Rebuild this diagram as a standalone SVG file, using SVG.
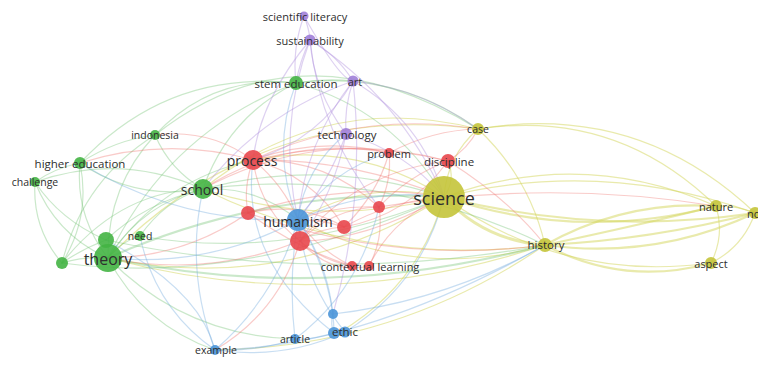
<svg xmlns="http://www.w3.org/2000/svg" width="758" height="365" viewBox="0 0 758 365">
<style>
.e{fill:none;stroke-width:1.2;stroke-linecap:round}
.y{stroke:#d3d65a;stroke-opacity:.5}
.g{stroke:#6cc06c;stroke-opacity:.36}
.r{stroke:#ef7068;stroke-opacity:.36}
.b{stroke:#75acdf;stroke-opacity:.4}
.p{stroke:#b092de;stroke-opacity:.42}
.t2{stroke-width:2.2}
.t3{stroke-width:3}
text{font-family:"Open Sans","Noto Sans","DejaVu Sans",sans-serif;fill:#2e2e2e;text-anchor:middle;dominant-baseline:central;font-size:11px}
.cr{fill:#e8474c;fill-opacity:.9}
.cg{fill:#44b444;fill-opacity:.9}
.cb{fill:#4a95d8;fill-opacity:.9}
.cy{fill:#c4c43a;fill-opacity:.9}
.cp{fill:#a07ed8;fill-opacity:.9}
</style>
<rect width="758" height="365" fill="#ffffff"/>
<g id="edges">
<path class="e y" d="M444,197 Q582,147 716,206"/>
<path class="e y" d="M444,197 Q602,158 755,213"/>
<path class="e y" d="M444,197 Q564,283 711,263"/>
<path class="e y t3" d="M444,197 Q485,241 545,245"/>
<path class="e y t2" d="M545,245 Q625,200 716,206"/>
<path class="e y t2" d="M545,245 Q655,260 755,213"/>
<path class="e y t2" d="M545,245 Q624,287 711,263"/>
<path class="e y" d="M716,206 Q725,235 711,263"/>
<path class="e y" d="M716,206 Q735,205 755,213"/>
<path class="e y" d="M711,263 Q743,247 755,213"/>
<path class="e y" d="M444,197 Q447,156 478,129"/>
<path class="e y" d="M478,129 Q616,108 716,206"/>
<path class="e y" d="M478,129 Q638,102 755,213"/>
<path class="e y" d="M478,129 Q529,177 545,245"/>
<path class="e y" d="M444,197 Q288,295 108,258"/>
<path class="e y" d="M444,197 Q322,229 203,189"/>
<path class="e y" d="M545,245 Q328,317 108,258"/>
<path class="e y" d="M545,245 Q396,347 215,350"/>
<path class="e y" d="M444,197 Q366,179 298,220"/>
<path class="e y" d="M444,197 Q356,140 253,160"/>
<path class="e y t2" d="M444,197 Q579,242 716,206"/>
<path class="e y t2" d="M444,197 Q598,236 755,213"/>
<path class="e y" d="M478,129 Q326,90 203,189"/>
<path class="e y" d="M478,129 Q261,101 108,258"/>
<path class="e y" d="M545,245 Q366,268 203,189"/>
<path class="e y" d="M545,245 Q416,282 298,220"/>
<path class="e y" d="M444,197 Q456,180 448,161"/>
<path class="e y" d="M444,197 Q419,285 340,332"/>
<path class="e y t2" d="M545,245 Q640,225 716,206"/>
<path class="e y t2" d="M545,245 Q650,240 755,213"/>
<path class="e g" d="M108,258 Q142,204 203,189"/>
<path class="e g" d="M108,258 Q75,216 80,163"/>
<path class="e g" d="M108,258 Q56,235 35,182"/>
<path class="e g" d="M108,258 Q107,187 155,135"/>
<path class="e g" d="M108,258 Q167,133 296,83"/>
<path class="e g" d="M108,258 Q120,242 140,236"/>
<path class="e g" d="M62,263 Q32,228 35,182"/>
<path class="e g" d="M62,263 Q91,217 80,163"/>
<path class="e g" d="M62,263 Q83,180 155,135"/>
<path class="e g" d="M35,182 Q55,168 80,163"/>
<path class="e g" d="M80,163 Q115,140 155,135"/>
<path class="e g" d="M155,135 Q212,74 296,83"/>
<path class="e g" d="M80,163 Q168,69 296,83"/>
<path class="e g" d="M203,189 Q228,117 296,83"/>
<path class="e g" d="M203,189 Q325,157 444,197"/>
<path class="e g t2" d="M108,258 Q269,187 444,197"/>
<path class="e g t2" d="M108,258 Q325,304 545,245"/>
<path class="e g" d="M62,263 Q243,287 444,197"/>
<path class="e g" d="M108,258 Q143,325 215,350"/>
<path class="e g" d="M80,163 Q136,201 203,189"/>
<path class="e g" d="M35,182 Q120,152 203,189"/>
<path class="e g" d="M203,189 Q257,186 298,220"/>
<path class="e g" d="M296,83 Q393,110 444,197"/>
<path class="e g" d="M296,83 Q396,70 478,129"/>
<path class="e g" d="M140,236 Q286,262 444,197"/>
<path class="e g" d="M106,240 Q325,286 545,245"/>
<path class="e g" d="M203,189 Q382,166 545,245"/>
<path class="e g" d="M106,240 Q145,203 203,189"/>
<path class="e g" d="M108,258 Q161,180 253,160"/>
<path class="e g" d="M62,263 Q85,256 108,258"/>
<path class="e g" d="M62,263 Q82,249 106,240"/>
<path class="e g" d="M108,258 Q185,336 295,339"/>
<path class="e g" d="M296,83 Q325,78 353,81"/>
<path class="e g" d="M35,182 Q60,220 106,240"/>
<path class="e g" d="M155,135 Q170,170 203,189"/>
<path class="e g" d="M62,263 Q120,190 203,189"/>
<path class="e g" d="M140,236 Q165,200 203,189"/>
<path class="e g" d="M155,135 Q300,20 478,129"/>
<path class="e r" d="M253,160 Q283,184 298,220"/>
<path class="e r" d="M253,160 Q260,210 300,241"/>
<path class="e r" d="M253,160 Q243,188 248,213"/>
<path class="e r" d="M253,160 Q320,136 389,153"/>
<path class="e r" d="M253,160 Q350,137 448,161"/>
<path class="e r" d="M253,160 Q352,159 444,197"/>
<path class="e r" d="M253,160 Q209,128 155,135"/>
<path class="e r" d="M253,160 Q167,136 80,163"/>
<path class="e r" d="M253,160 Q312,175 344,227"/>
<path class="e r" d="M253,160 Q325,158 379,207"/>
<path class="e r" d="M300,241 Q320,228 344,227"/>
<path class="e r" d="M300,241 Q321,260 352,266"/>
<path class="e r" d="M300,241 Q333,208 379,207"/>
<path class="e r" d="M300,241 Q365,241 444,197"/>
<path class="e r" d="M300,241 Q358,171 448,161"/>
<path class="e r" d="M248,213 Q299,201 344,227"/>
<path class="e r" d="M248,213 Q344,181 444,197"/>
<path class="e r" d="M248,213 Q393,265 545,245"/>
<path class="e r" d="M389,153 Q392,180 379,207"/>
<path class="e r" d="M389,153 Q377,195 344,227"/>
<path class="e r" d="M448,161 Q408,176 379,207"/>
<path class="e r" d="M448,161 Q409,215 344,227"/>
<path class="e r" d="M379,207 Q336,205 298,220"/>
<path class="e r" d="M344,227 Q320,219 298,220"/>
<path class="e r" d="M352,266 Q318,250 298,220"/>
<path class="e r" d="M369,266 Q384,238 379,207"/>
<path class="e r" d="M369,266 Q393,217 444,197"/>
<path class="e r" d="M344,227 Q390,201 444,197"/>
<path class="e r" d="M448,161 Q468,149 478,129"/>
<path class="e r" d="M389,153 Q432,130 478,129"/>
<path class="e r" d="M379,207 Q547,179 716,206"/>
<path class="e r" d="M300,241 Q279,312 215,350"/>
<path class="e r" d="M389,153 Q289,134 203,189"/>
<path class="e r" d="M448,161 Q320,126 203,189"/>
<path class="e r" d="M248,213 Q185,257 108,258"/>
<path class="e r" d="M300,241 Q207,278 108,258"/>
<path class="e r" d="M300,241 Q330,275 369,266"/>
<path class="e r" d="M248,213 Q300,250 352,266"/>
<path class="e r" d="M253,160 Q360,110 478,129"/>
<path class="e r" d="M448,161 Q510,200 545,245"/>
<path class="e b" d="M298,220 Q276,297 215,350"/>
<path class="e b" d="M298,220 Q288,280 295,339"/>
<path class="e b" d="M298,220 Q333,271 334,333"/>
<path class="e b" d="M298,220 Q305,283 345,332"/>
<path class="e b" d="M298,220 Q325,262 333,314"/>
<path class="e b" d="M333,314 Q330,324 334,333"/>
<path class="e b" d="M345,332 Q283,360 215,350"/>
<path class="e b" d="M295,339 Q256,352 215,350"/>
<path class="e b" d="M334,333 Q314,340 295,339"/>
<path class="e b" d="M298,220 Q209,268 108,258"/>
<path class="e b" d="M215,350 Q185,271 203,189"/>
<path class="e b" d="M345,332 Q422,284 444,197"/>
<path class="e b" d="M215,350 Q364,347 545,245"/>
<path class="e b" d="M298,220 Q368,187 444,197"/>
<path class="e b" d="M298,220 Q305,167 346,134"/>
<path class="e b" d="M215,350 Q155,308 140,236"/>
<path class="e b" d="M298,220 Q180,224 80,163"/>
<path class="e b" d="M333,314 Q446,301 545,245"/>
<path class="e b" d="M298,220 Q270,151 296,83"/>
<path class="e b" d="M298,220 Q330,170 389,153"/>
<path class="e b" d="M215,350 Q200,290 106,240"/>
<path class="e b" d="M334,333 Q240,260 253,160"/>
<path class="e b" d="M295,339 Q360,290 379,207"/>
<path class="e p" d="M304,16 Q309,28 310,40"/>
<path class="e p" d="M310,40 Q300,60 296,83"/>
<path class="e p" d="M310,40 Q337,55 353,81"/>
<path class="e p" d="M310,40 Q314,92 346,134"/>
<path class="e p" d="M310,40 Q277,128 298,220"/>
<path class="e p" d="M310,40 Q400,98 444,197"/>
<path class="e p" d="M353,81 Q344,108 346,134"/>
<path class="e p" d="M353,81 Q422,121 444,197"/>
<path class="e p" d="M353,81 Q319,140 253,160"/>
<path class="e p" d="M353,81 Q305,142 298,220"/>
<path class="e p" d="M346,134 Q405,151 444,197"/>
<path class="e p" d="M346,134 Q330,180 298,220"/>
<path class="e p" d="M353,81 Q262,113 203,189"/>
<path class="e p" d="M304,16 Q292,48 296,83"/>
<path class="e p" d="M353,81 Q420,88 478,129"/>
<path class="e p" d="M346,134 Q335,192 300,241"/>
<path class="e p" d="M353,81 Q366,200 333,314"/>
<path class="e p" d="M310,40 Q320,134 379,207"/>
<path class="e p" d="M304,16 Q340,80 353,81"/>
<path class="e p" d="M310,40 Q260,100 253,160"/>
</g>
<g id="n-scientific-literacy"><circle class="cp" cx="304" cy="16" r="4.5"/><text x="305" y="16">scientific literacy</text></g>
<g id="n-sustainability"><circle class="cp" cx="310" cy="40" r="5.5"/><text x="310" y="40">sustainability</text></g>
<g id="n-art"><circle class="cp" cx="353" cy="81" r="5.5"/><text x="355" y="81">art</text></g>
<g id="n-technology"><circle class="cp" cx="346" cy="134" r="6"/><text x="347" y="134" style="font-size:11.5px">technology</text></g>
<g id="n-stem-education"><circle class="cg" cx="296" cy="83" r="7"/><text x="296" y="83" style="font-size:11.5px">stem education</text></g>
<g id="n-indonesia"><circle class="cg" cx="155" cy="135" r="5"/><text x="155" y="135" style="font-size:10.5px">indonesia</text></g>
<g id="n-higher-education"><circle class="cg" cx="80" cy="163" r="6"/><text x="80" y="163" style="font-size:11.5px">higher education</text></g>
<g id="n-challenge"><circle class="cg" cx="35" cy="182" r="5"/><text x="35" y="182" style="font-size:10.5px">challenge</text></g>
<g id="n-school"><circle class="cg" cx="203" cy="189" r="10"/><text x="202" y="189" style="font-size:14px">school</text></g>
<g id="n-need"><circle class="cg" cx="140" cy="236" r="5"/><text x="140" y="236" style="font-size:10.5px">need</text></g>
<g id="n-green-1"><circle class="cg" cx="106" cy="240" r="8"/></g>
<g id="n-green-2"><circle class="cg" cx="62" cy="263" r="6"/></g>
<g id="n-theory"><circle class="cg" cx="108" cy="258" r="14"/><text x="108" y="259" style="font-size:16px">theory</text></g>
<g id="n-process"><circle class="cr" cx="253" cy="160" r="10"/><text x="252" y="160" style="font-size:14px">process</text></g>
<g id="n-problem"><circle class="cr" cx="389" cy="153" r="5"/><text x="389" y="153">problem</text></g>
<g id="n-discipline"><circle class="cr" cx="448" cy="161" r="7"/><text x="449" y="161" style="font-size:11.5px">discipline</text></g>
<g id="n-red-1"><circle class="cr" cx="248" cy="213" r="7"/></g>
<g id="n-red-2"><circle class="cr" cx="379" cy="207" r="6"/></g>
<g id="n-red-3"><circle class="cr" cx="344" cy="227" r="7"/></g>
<g id="n-red-4"><circle class="cr" cx="300" cy="241" r="10"/></g>
<g id="n-red-5"><circle class="cr" cx="352" cy="266" r="5"/></g>
<g id="n-contextual-learning"><circle class="cr" cx="369" cy="266" r="5"/><text x="370" y="266">contextual learning</text></g>
<g id="n-humanism"><circle class="cb" cx="298" cy="220" r="11"/><text x="298" y="221" style="font-size:14px">humanism</text></g>
<g id="n-blue-1"><circle class="cb" cx="333" cy="314" r="5"/></g>
<g id="n-blue-2"><circle class="cb" cx="334" cy="333" r="6"/></g>
<g id="n-ethic"><circle class="cb" cx="345" cy="332" r="5.5"/><text x="345" y="331" style="font-size:11.5px">ethic</text></g>
<g id="n-article"><circle class="cb" cx="295" cy="339" r="5"/><text x="295" y="339" style="font-size:10.5px">article</text></g>
<g id="n-example"><circle class="cb" cx="215" cy="350" r="5"/><text x="216" y="350" style="font-size:10.5px">example</text></g>
<g id="n-science"><circle class="cy" cx="444" cy="197" r="21"/><text x="444" y="198" style="font-size:18px">science</text></g>
<g id="n-case"><circle class="cy" cx="478" cy="129" r="6"/><text x="478" y="129" style="font-size:10.5px">case</text></g>
<g id="n-history"><circle class="cy" cx="545" cy="245" r="7"/><text x="546" y="244" style="font-size:11.5px">history</text></g>
<g id="n-nature"><circle class="cy" cx="716" cy="206" r="6"/><text x="716" y="206">nature</text></g>
<g id="n-no"><circle class="cy" cx="755" cy="213" r="6"/><text x="747" y="213" style="text-anchor:start">no</text></g>
<g id="n-aspect"><circle class="cy" cx="711" cy="263" r="6"/><text x="711" y="263">aspect</text></g>
</svg>
